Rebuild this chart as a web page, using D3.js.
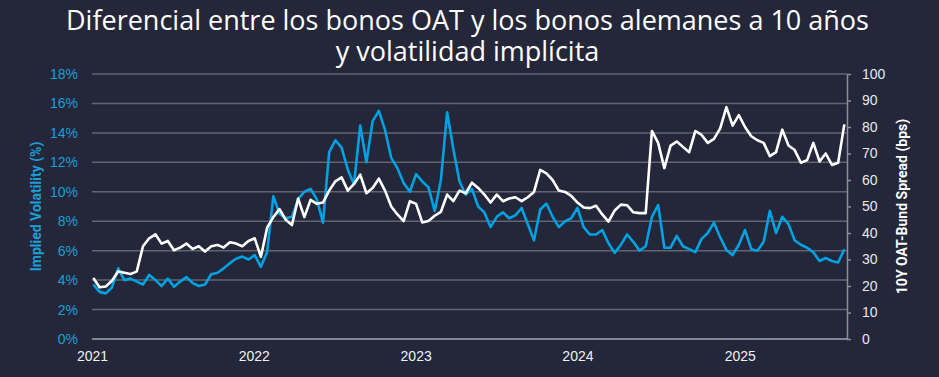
<!DOCTYPE html>
<html>
<head>
<meta charset="utf-8">
<script src="https://cdn.jsdelivr.net/npm/d3@7"></script>
<style>
  body { margin: 0; background: #232739; }
  svg { display: block; }
</style>
</head>
<body>
<svg id="chart"></svg>
<script>
// biweekly readings, first point 2021-01-04
const startDate = new Date(2021, 0, 4);
const stepDays = 14;

const impliedVol = [
  3.7, 3.2, 3.1, 3.5, 4.8, 4.0, 4.1, 3.9, 3.7, 4.35,
  4.0, 3.6, 4.1, 3.55, 3.9, 4.2, 3.8, 3.6, 3.7, 4.4,
  4.5, 4.8, 5.15, 5.45, 5.6, 5.4, 5.7, 4.9, 5.9, 9.7,
  8.5, 8.2, 8.3, 9.5, 10.0, 10.2, 9.5, 7.9, 12.7, 13.5,
  13.0, 11.5, 10.5, 14.5, 12.0, 14.8, 15.5, 14.2, 12.3, 11.6,
  10.6, 10.0, 11.2, 10.7, 10.3, 8.7, 10.8, 15.4, 12.9, 10.7,
  9.8, 10.2, 9.0, 8.6, 7.6, 8.3, 8.6, 8.2, 8.4, 8.9,
  7.8, 6.7, 8.8, 9.2, 8.3, 7.6, 8.0, 8.2, 8.9, 7.6,
  7.1, 7.1, 7.4, 6.5, 5.85, 6.4, 7.1, 6.6, 6.0, 6.3,
  8.3, 9.1, 6.2, 6.2, 7.0, 6.3, 6.1, 5.9, 6.8, 7.2,
  7.9, 6.9, 6.05, 5.7, 6.4, 7.4, 6.1, 6.0, 6.6, 8.7,
  7.2, 8.3, 7.8, 6.7, 6.4, 6.2, 5.9, 5.3, 5.5, 5.3,
  5.2, 6.1
];

const oatBundSpread = [
  23, 19.5, 19.8, 22, 25.5, 25, 24.5, 25.5, 35, 38,
  39.5, 36, 37, 33.5, 34.5, 36, 34, 35, 33, 35,
  35.5, 34.5, 36.5, 36, 35, 37, 38, 31, 42, 46,
  49, 45, 43, 53, 46, 52.5, 51, 51.5, 56, 59.5,
  61, 56, 58.5, 62, 55, 57, 60.5, 56, 50, 47,
  44.5, 52, 51, 44, 44.5, 46.5, 48, 54.5, 52, 56,
  55, 59, 57, 54.5, 51.5, 54.5, 52, 53, 53.5, 52,
  53.5, 55.5, 63.8, 62.5, 60, 56, 55.5, 54, 51.5, 49.6,
  49.4, 50.3, 47, 44.3, 48.5, 50.7, 50.5, 47.8, 47.5, 47.5,
  78.5, 74, 64.5, 73, 74.5, 72.5, 70.5, 78.5, 77, 74,
  75.5, 79.5, 87.5, 80.5, 84.5, 80, 76.5, 75, 74, 69,
  70.5, 79, 73, 71.3, 66.5, 67.5, 74, 67, 70, 65.7,
  66.5, 81
];

const volTicks = [0, 2, 4, 6, 8, 10, 12, 14, 16, 18];
const spreadTicks = [0, 10, 20, 30, 40, 50, 60, 70, 80, 90, 100];
const yearTicks = [2021, 2022, 2023, 2024, 2025];

const titleLines = [
  "Diferencial entre los bonos OAT y los bonos alemanes a 10 años",
  "y volatilidad implícita"
];

const width = 939, height = 377;
const margin = { top: 74, right: 92, bottom: 38, left: 92 };
const blue = "#00a2e3";
const labelBlue = "#1b9fd8";

const dates = impliedVol.map((d, i) => d3.timeDay.offset(startDate, i * stepDays));

const svg = d3.select("#chart")
  .attr("width", width)
  .attr("height", height)
  .style("font-family", "Roboto, sans-serif");

svg.append("rect").attr("width", width).attr("height", height).attr("fill", "#232739");

const x = d3.scaleTime()
  .domain([new Date(2021, 0, 1), new Date(2025, 7, 31)])
  .range([margin.left, width - margin.right]);

const yVol = d3.scaleLinear().domain([0, 18]).range([height - margin.bottom, margin.top]);
const ySpread = d3.scaleLinear().domain([0, 100]).range([height - margin.bottom, margin.top]);

// title
svg.append("g").selectAll("text")
  .data(titleLines)
  .enter().append("text")
  .attr("x", width / 2 - 2)
  .attr("y", (d, i) => 30 + i * 31)
  .attr("text-anchor", "middle")
  .attr("fill", "#ffffff")
  .style("font-family", "'Open Sans', sans-serif")
  .style("font-size", "27px")
  .text(d => d);

// gridlines follow the left axis
svg.append("g").selectAll("line")
  .data(volTicks)
  .enter().append("line")
  .attr("x1", margin.left)
  .attr("x2", width - margin.right)
  .attr("y1", d => yVol(d))
  .attr("y2", d => yVol(d))
  .attr("stroke", d => d === 0 ? "#a4a6ae" : "#62656f")
  .attr("stroke-width", 1.5);

// left axis
const leftAxis = svg.append("g")
  .attr("transform", `translate(${margin.left},0)`)
  .call(d3.axisLeft(yVol).tickValues(volTicks).tickFormat(d => d + "%").tickSize(0).tickPadding(14));
leftAxis.select(".domain").remove();
leftAxis.selectAll("text").attr("fill", labelBlue).style("font-size", "14px");

// right axis
const rightAxis = svg.append("g")
  .attr("transform", `translate(${width - margin.right},0)`)
  .call(d3.axisRight(ySpread).tickValues(spreadTicks).tickSize(4).tickSizeOuter(0).tickPadding(11));
rightAxis.select(".domain").attr("stroke", "#8d8f98").attr("stroke-width", 1.5);
rightAxis.selectAll(".tick line").attr("stroke", "#8d8f98").attr("stroke-width", 1.5);
rightAxis.selectAll("text").attr("fill", "#e8e8ec").style("font-size", "14px");

// bottom axis
const bottomAxis = svg.append("g")
  .attr("transform", `translate(0,${height - margin.bottom})`)
  .call(d3.axisBottom(x).tickValues(yearTicks.map(y => new Date(y, 0, 1)))
    .tickFormat(d3.timeFormat("%Y")).tickSize(0).tickPadding(12));
bottomAxis.select(".domain").remove();
bottomAxis.selectAll("text").attr("fill", "#f0f0f4").style("font-size", "14px");

// axis titles
svg.append("text")
  .attr("transform", `translate(41,${(margin.top + height - margin.bottom) / 2}) rotate(-90)`)
  .attr("text-anchor", "middle")
  .attr("fill", labelBlue)
  .style("font-size", "14px")
  .style("font-weight", "bold")
  .text("Implied Volatility (%)");

svg.append("text")
  .attr("transform", `translate(907,${(margin.top + height - margin.bottom) / 2}) rotate(-90)`)
  .attr("text-anchor", "middle")
  .attr("fill", "#ffffff")
  .style("font-size", "14px")
  .style("font-weight", "bold")
  .text("10Y OAT-Bund Spread (bps)");

// lines
const volLine = d3.line()
  .x((d, i) => x(dates[i]))
  .y(d => yVol(d));

const spreadLine = d3.line()
  .x((d, i) => x(dates[i]))
  .y(d => ySpread(d));

svg.append("path")
  .datum(impliedVol)
  .attr("d", volLine)
  .attr("fill", "none")
  .attr("stroke", blue)
  .attr("stroke-width", 2.6)
  .attr("stroke-linejoin", "round");

svg.append("path")
  .datum(oatBundSpread)
  .attr("d", spreadLine)
  .attr("fill", "none")
  .attr("stroke", "#ffffff")
  .attr("stroke-width", 2.6)
  .attr("stroke-linejoin", "round");
</script>
</body>
</html>
